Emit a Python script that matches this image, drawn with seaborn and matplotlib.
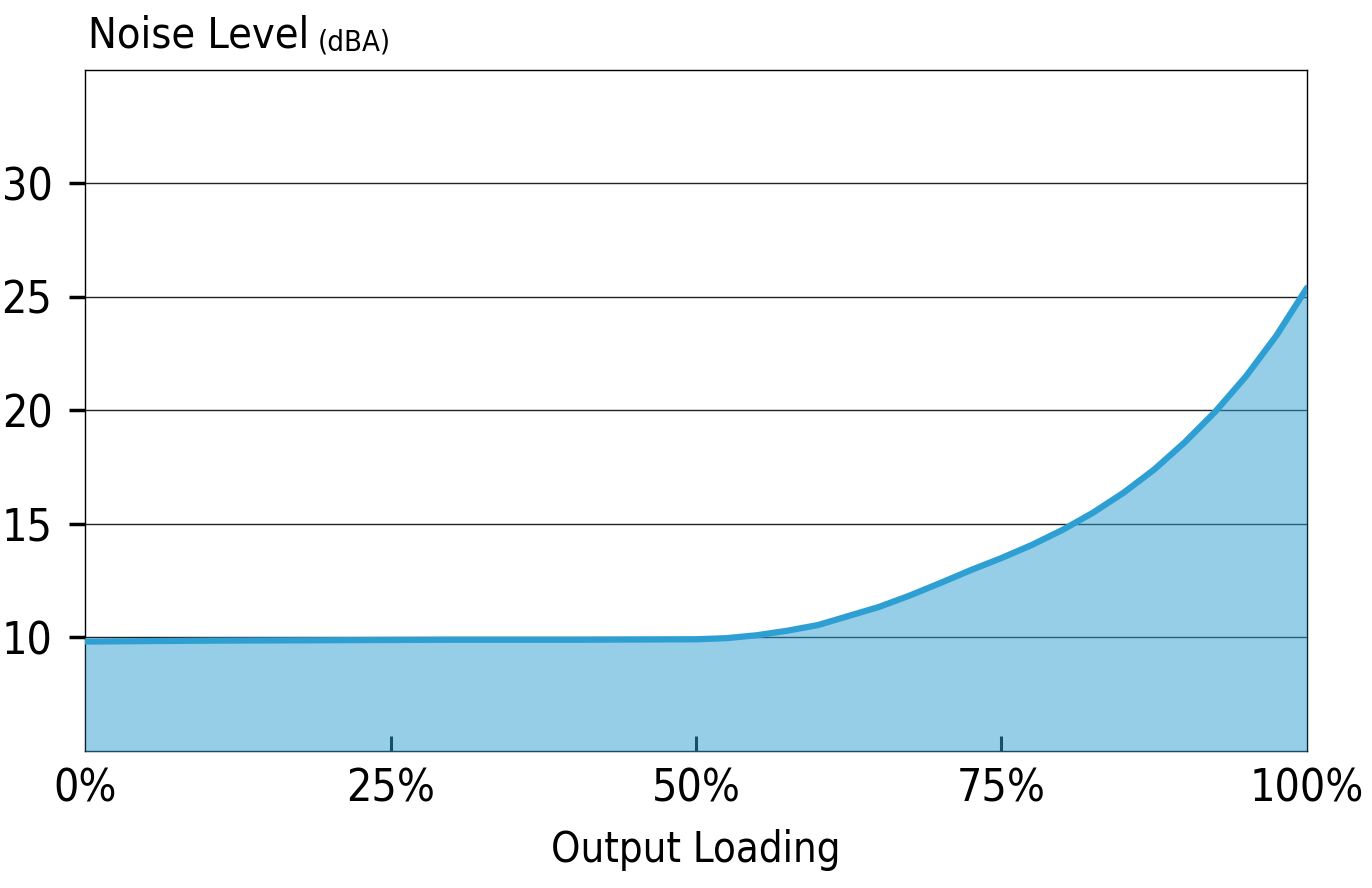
import matplotlib
matplotlib.use("Agg")
import matplotlib.pyplot as plt
import seaborn as sns
import pandas as pd

# output loading (%) vs noise level (dBA)
loading = [0, 10, 20, 30, 40, 50, 52.5, 55, 57.5, 60, 62.5, 65, 67.5, 70,
           72.5, 75, 77.5, 80, 82.5, 85, 87.5, 90, 92.5, 95, 97.5, 100]
noise = [9.82, 9.86, 9.88, 9.90, 9.90, 9.92, 9.97, 10.1, 10.3, 10.55, 10.95,
         11.35, 11.85, 12.4, 12.97, 13.5, 14.08, 14.74, 15.5, 16.38, 17.4,
         18.6, 19.95, 21.5, 23.3, 25.4]
x_ticks = [0, 25, 50, 75, 100]
x_labels = ["0%", "25%", "50%", "75%", "100%"]
y_ticks = [10, 15, 20, 25, 30]

df = pd.DataFrame({"loading": loading, "noise": noise})

sns.set_style("white")
plt.rcParams["font.family"] = ["Liberation Sans Narrow", "DejaVu Sans"]
plt.rcParams["font.stretch"] = "condensed"
plt.rcParams["text.color"] = "black"
plt.rcParams["xtick.color"] = "black"
plt.rcParams["ytick.color"] = "black"
plt.rcParams["axes.labelcolor"] = "black"

blue = "#2e9fd3"

fig = plt.figure(figsize=(13.72, 8.88), dpi=100)
ax = fig.add_axes([0.062, 0.1543, 0.8906, 0.7669])

# fill sits above grid/ticks/spines so they show through tinted
ax.fill_between(df["loading"], 0, df["noise"], color=blue, alpha=0.5,
                linewidth=0, zorder=3)
sns.lineplot(data=df, x="loading", y="noise", color=blue, linewidth=4.5,
             ax=ax, zorder=4)

ax.set_xlim(0, 100)
ax.set_ylim(5, 35)
ax.set_yticks(y_ticks)
ax.set_yticklabels([str(v) for v in y_ticks])
ax.set_xticks(x_ticks)
ax.set_xticklabels(x_labels)

ax.yaxis.grid(True, color="#222222", linewidth=1)
ax.xaxis.grid(False)
ax.set_axisbelow(True)

for s in ax.spines.values():
    s.set_visible(True)
    s.set_color("black")
    s.set_linewidth(1)

ax.tick_params(axis="y", direction="out", length=11.5, width=2.5,
               labelsize=32, pad=12, left=True)
ax.tick_params(axis="x", direction="in", length=11, width=2.2,
               labelsize=32, pad=12, bottom=True)
# edge ticks are hidden in the original
xt = ax.xaxis.get_major_ticks()
xt[0].tick1line.set_visible(False)
xt[-1].tick1line.set_visible(False)

ax.set_xlabel("Output Loading", fontsize=30, labelpad=13)
ax.set_ylabel("")

t1 = ax.annotate("Noise Level", xy=(0, 1), xycoords="axes fraction",
                 xytext=(2, 16), textcoords="offset points",
                 fontsize=31, ha="left", va="baseline")
ax.annotate("(dBA)", xy=(1, 0), xycoords=t1, xytext=(6, 0),
            textcoords="offset points", fontsize=21, ha="left", va="bottom")

fig.savefig("out.png", dpi=100)
